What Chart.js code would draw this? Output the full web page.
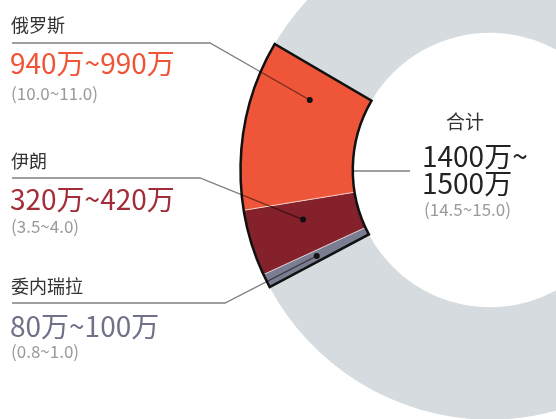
<!DOCTYPE html>
<html>
<head>
<meta charset="utf-8">
<script src="https://cdn.jsdelivr.net/npm/chart.js@4.4.1/dist/chart.umd.min.js"></script>
<style>
html, body { margin: 0; padding: 0; background: #fff; overflow: hidden; width: 556px; height: 419px; }
body { position: relative; font-family: "Noto Sans CJK SC", "Noto Sans", sans-serif; }
#wrap { position: absolute; left: 0; top: -80px; width: 740px; height: 500px; }
.t { position: absolute; white-space: nowrap; }
</style>
</head>
<body>
<div id="wrap"><canvas id="chart" width="740" height="500" style="width:740px;height:500px"></canvas></div>
<div id="labels"></div>
<script>
// wedge shares (% of world supply, as drawn), order clockwise from bottom
var countries = ['委内瑞拉', '伊朗', '俄罗斯'];
var shares = [0.9, 4.3, 11.0];
var restShare = [83.8];
var ranges = ['80万~100万', '320万~420万', '940万~990万'];
var pctRanges = ['(0.8~1.0)', '(3.5~4.0)', '(10.0~11.0)'];
var totalTitle = '合计';
var totalRange = ['1400万~', '1500万'];
var totalPct = '(14.5~15.0)';

var segColors = ['#7b7d93', '#84212a', '#ef5538', '#d5dbde'];
var numColors = ['#6f7189', '#a22c37', '#f05438'];

// label layout (page px)
var nameY = [285, 160, 24];
var numY = [325, 198, 62];
var pctY = [351, 226, 93];
var ruleY = [303, 178, 43];
var elbowX = [225, 200, 210];
var dotFrac = [0.5, 0.64, 0.77];
var OFF = 80; // canvas top offset

function addText(txt, x, cy, size, color) {
    var d = document.createElement('div');
    d.className = 't';
    d.textContent = txt;
    var lh = Math.round(size * 1.3);
    d.style.left = x + 'px';
    d.style.top = (cy - lh / 2) + 'px';
    d.style.fontSize = size + 'px';
    d.style.lineHeight = lh + 'px';
    d.style.color = color;
    document.getElementById('labels').appendChild(d);
}

for (var i = 0; i < countries.length; i++) {
    addText(countries[i], 11, nameY[i], 18, '#333');
    addText(ranges[i], 10, numY[i], 28, numColors[i]);
    addText(pctRanges[i], 11, pctY[i], 17, '#9a9a9a');
}
addText(totalTitle, 446, 120, 19, '#333');
addText(totalRange[0], 422, 155, 28, '#222');
addText(totalRange[1], 422, 182, 28, '#222');
addText(totalPct, 424, 209, 17, '#9a9a9a');

var overlay = {
    id: 'overlay',
    afterDatasetsDraw: function(chart) {
        var ctx = chart.ctx;
        var arcs = chart.getDatasetMeta(0).data;
        var first = arcs[0], last = arcs[2];
        var cx = first.x, cy = first.y;
        var ro = first.outerRadius, ri = first.innerRadius;

        ctx.save();
        // black outline round the wedge
        ctx.beginPath();
        ctx.arc(cx, cy, ro, first.startAngle, last.endAngle);
        ctx.arc(cx, cy, ri, last.endAngle, first.startAngle, true);
        ctx.closePath();
        ctx.lineWidth = 2.5;
        ctx.strokeStyle = '#111';
        ctx.lineJoin = 'miter';
        ctx.stroke();

        // leader lines
        ctx.lineWidth = 1.3;
        ctx.strokeStyle = 'rgba(0,0,0,0.5)';
        for (var i = 0; i < 3; i++) {
            var a = arcs[i];
            var ang = a.startAngle + dotFrac[i] * (a.endAngle - a.startAngle);
            var r = (ri + ro) / 2;
            var dx = cx + r * Math.cos(ang), dy = cy + r * Math.sin(ang);
            ctx.beginPath();
            ctx.moveTo(12, ruleY[i] + OFF);
            ctx.lineTo(elbowX[i], ruleY[i] + OFF);
            ctx.lineTo(dx, dy);
            ctx.stroke();
            ctx.beginPath();
            ctx.arc(dx, dy, 3, 0, Math.PI * 2);
            ctx.fillStyle = '#111';
            ctx.fill();
        }
        // total line
        ctx.beginPath();
        ctx.moveTo(cx - ri, cy + 1);
        ctx.lineTo(410, cy + 1);
        ctx.stroke();
        ctx.restore();
    }
};

new Chart(document.getElementById('chart').getContext('2d'), {
    type: 'doughnut',
    data: {
        labels: countries.concat(['其他']),
        datasets: [{
            data: shares.concat(restShare),
            backgroundColor: segColors,
            borderColor: ['rgba(255,255,255,0.55)', 'rgba(255,255,255,0.55)', 'rgba(255,255,255,0.55)', '#d5dbde'],
            borderWidth: [1, 1, 1, 0]
        }]
    },
    options: {
        responsive: false,
        animation: false,
        events: [],
        rotation: 242,
        cutout: '55%',
        layout: { padding: { left: 240 } },
        plugins: {
            legend: { display: false },
            tooltip: { enabled: false }
        }
    },
    plugins: [overlay]
});
</script>
</body>
</html>
